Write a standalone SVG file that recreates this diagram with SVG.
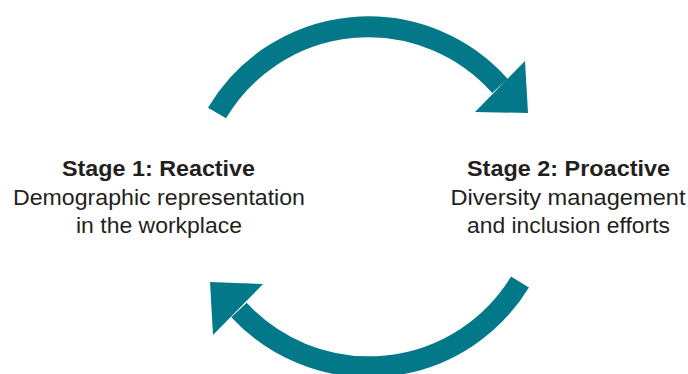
<svg xmlns="http://www.w3.org/2000/svg" width="688" height="374" viewBox="0 0 688 374">
<style>
.shaft{fill:none;stroke:#037888;stroke-width:21;stroke-linecap:butt}
.head{fill:#037888;stroke:none}
text{font-family:"Liberation Sans",Arial,sans-serif;font-size:22.5px;fill:#231f20;text-anchor:middle}
.b{font-weight:bold}
</style>
<rect width="688" height="374" fill="#ffffff"/>
<g id="connectors">
<path class="shaft" d="M217,113 A176,176 0 0 1 500,86"/>
<polygon class="head" points="525,61 528,113 475,112"/>
<path class="shaft" d="M520,282 A177,177 0 0 1 239,310"/>
<polygon class="head" points="210,282 263,284 213,335"/>
</g>
<g id="stage1">
<text class="b" x="158.5" y="176" textLength="193" lengthAdjust="spacingAndGlyphs">Stage 1: Reactive</text>
<text x="159" y="205" textLength="292" lengthAdjust="spacingAndGlyphs">Demographic representation</text>
<text x="159" y="233" textLength="166" lengthAdjust="spacingAndGlyphs">in the workplace</text>
</g>
<g id="stage2">
<text class="b" x="568.5" y="176" textLength="203" lengthAdjust="spacingAndGlyphs">Stage 2: Proactive</text>
<text x="568" y="205" textLength="235" lengthAdjust="spacingAndGlyphs">Diversity management</text>
<text x="568.5" y="233" textLength="203" lengthAdjust="spacingAndGlyphs">and inclusion efforts</text>
</g>
</svg>
